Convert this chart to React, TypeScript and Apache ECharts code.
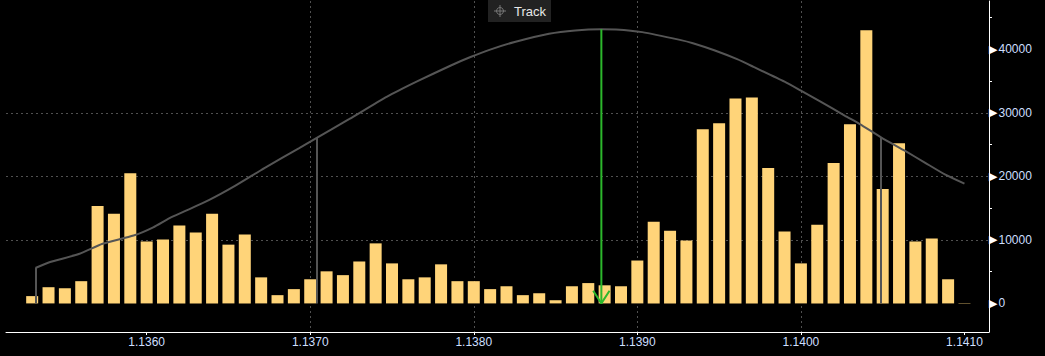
import React, { useEffect, useRef } from 'react';
import * as echarts from 'echarts';

// Price levels (x) and traded volume at each level (bars)
const priceLevels = [
  1.1353, 1.1354, 1.1355, 1.1356, 1.1357, 1.1358, 1.1359, 1.1360, 1.1361, 1.1362,
  1.1363, 1.1364, 1.1365, 1.1366, 1.1367, 1.1368, 1.1369, 1.1370, 1.1371, 1.1372,
  1.1373, 1.1374, 1.1375, 1.1376, 1.1377, 1.1378, 1.1379, 1.1380, 1.1381, 1.1382,
  1.1383, 1.1384, 1.1385, 1.1386, 1.1387, 1.1388, 1.1389, 1.1390, 1.1391, 1.1392,
  1.1393, 1.1394, 1.1395, 1.1396, 1.1397, 1.1398, 1.1399, 1.1400, 1.1401, 1.1402,
  1.1403, 1.1404, 1.1405, 1.1406, 1.1407, 1.1408, 1.1409, 1.1410,
];
const volumes = [
  1150, 2550, 2400, 3500, 15350, 14100, 20500, 9750, 10050, 12250,
  11150, 14100, 9250, 10850, 4100, 1300, 2250, 3800, 5050, 4450,
  6600, 9450, 6300, 3800, 4100, 6150, 3500, 3500, 2250, 2700,
  1300, 1600, 500, 2700, 3200, 2850, 2700, 6750, 12850, 11450,
  9900, 27400, 28350, 32250, 32400, 21300, 11300, 6300, 12400, 22100,
  28200, 43000, 18000, 25200, 9750, 10200, 3800, 60,
];

// Distribution curve ("Track")
const curvePrices = [
  1.13532, 1.13541, 1.13559, 1.13573, 1.13592, 1.13604, 1.13614, 1.13623, 1.13638, 1.13654,
  1.13672, 1.13693, 1.13704, 1.13713, 1.13724, 1.13747, 1.13765, 1.13786, 1.13798, 1.13810,
  1.13825, 1.13846, 1.13862, 1.13878, 1.13887, 1.13903, 1.13926, 1.13934, 1.13947, 1.13961,
  1.13971, 1.13990, 1.14000, 1.14012, 1.14027, 1.14036, 1.14049, 1.14064, 1.14076, 1.14088,
  1.14100,
];
const curveValues = [
  5570, 6510, 7810, 9380, 10680, 11980, 13440, 14480, 16250, 18490,
  21300, 24400, 26040, 27380, 29030, 32550, 34900, 37450, 38780, 39950,
  41150, 42450, 42970, 43150, 43120, 42700, 41480, 40950, 39840, 38440,
  37240, 34900, 33490, 31770, 29530, 28230, 26150, 23960, 22130, 20310,
  18850,
];

// Vertical markers on the curve
const markerPrices = [1.13532, 1.13704, 1.14049];
const markerValues = [5570, 26040, 26150];

// Green arrow (curve peak)
const arrowPrice = 1.13878;
const arrowTop = 43150;

// Axis ticks
const xTicks = [1.136, 1.137, 1.138, 1.139, 1.14, 1.141];
const yTicks = [0, 10000, 20000, 30000, 40000];
const yMinorTicks = [5000, 15000, 25000, 35000, 45000];

const X_MIN = 1.13514;
const X_MAX = 1.14115;
const Y_MIN = -4500;
const Y_MAX = 47600;

const LABEL_COLOR = '#cddfff';
const FONT = 'Liberation Sans';
const GRID_COLOR = '#505050';

export default function App() {
  const ref = useRef<HTMLDivElement>(null);

  useEffect(() => {
    if (!ref.current) return;
    const chart = echarts.init(ref.current, undefined, { renderer: 'svg' });

    const option: any = {
      animation: false,
      backgroundColor: '#000',
      grid: { left: 6, right: 56, top: 1, bottom: 24, containLabel: false },
      graphic: [
        {
          type: 'group',
          left: 488,
          top: 0,
          children: [
            { type: 'rect', shape: { x: 0, y: 0, width: 63, height: 22 }, style: { fill: '#222' } },
            { type: 'circle', shape: { cx: 12, cy: 11, r: 3.5 }, style: { fill: 'none', stroke: '#777', lineWidth: 1 } },
            { type: 'line', shape: { x1: 6, y1: 11, x2: 18, y2: 11 }, style: { stroke: '#777', lineWidth: 1 } },
            { type: 'line', shape: { x1: 12, y1: 5, x2: 12, y2: 17 }, style: { stroke: '#777', lineWidth: 1 } },
            {
              type: 'text',
              x: 26,
              y: 11,
              style: { text: 'Track', fill: '#e8e8e8', font: `13px "${FONT}"`, textVerticalAlign: 'middle' },
            },
          ],
        },
      ],
      xAxis: {
        type: 'value',
        min: X_MIN,
        max: X_MAX,
        axisLine: { show: true, onZero: false, lineStyle: { color: '#fff', width: 1 } },
        axisTick: { show: true, length: 3, customValues: xTicks, lineStyle: { color: '#fff' } },
        axisLabel: {
          customValues: xTicks,
          formatter: (v: number) => v.toFixed(4),
          color: LABEL_COLOR,
          fontSize: 12,
          fontFamily: FONT,
          margin: 4,
        },
        splitLine: {
          show: true,
          showMinLine: false,
          showMaxLine: false,
          lineStyle: { color: GRID_COLOR, type: [2, 3], width: 1 },
        },
      },
      yAxis: [
        {
          type: 'value',
          position: 'right',
          min: Y_MIN,
          max: Y_MAX,
          axisLine: { show: true, onZero: false, lineStyle: { color: '#fff', width: 1 } },
          axisTick: { show: false, customValues: yTicks },
          axisLabel: {
            customValues: yTicks,
            margin: 0,
            formatter: (v: number) => `{t|▶}{v|${v}}`,
            rich: {
              t: { color: '#fff', fontSize: 11, fontFamily: 'DejaVu Sans', padding: [0, 1, 0, 0] },
              v: { color: LABEL_COLOR, fontSize: 12, fontFamily: FONT },
            },
          },
          splitLine: {
            show: true,
            showMinLine: false,
            showMaxLine: false,
            lineStyle: { color: GRID_COLOR, type: [2, 3], width: 1 },
          },
        },
        {
          type: 'value',
          position: 'right',
          min: Y_MIN,
          max: Y_MAX,
          axisLine: { show: false },
          axisTick: { show: true, length: 3, customValues: yMinorTicks, lineStyle: { color: '#fff' } },
          axisLabel: { show: false },
          splitLine: { show: false },
        },
      ],
      series: [
        {
          type: 'bar',
          name: 'Volume',
          data: priceLevels.map((p, i) => [p, volumes[i]]),
          barWidth: 12,
          itemStyle: { color: '#ffd479' },
          z: 2,
        },
        {
          type: 'line',
          name: 'Track',
          data: curvePrices.map((p, i) => [p, curveValues[i]]),
          symbol: 'none',
          smooth: 0.2,
          lineStyle: { color: '#555', width: 2 },
          z: 3,
          markLine: {
            silent: true,
            symbol: ['none', 'none'],
            label: { show: false },
            lineStyle: { color: '#555', width: 2, type: 'solid' },
            data: markerPrices.map((p, i) => [{ coord: [p, 0] }, { coord: [p, markerValues[i]] }]),
          },
        },
        {
          type: 'line',
          name: 'Peak',
          data: [[arrowPrice, arrowTop], [arrowPrice, 0]],
          symbol: 'none',
          lineStyle: { color: '#2cb82c', width: 2 },
          z: 4,
        },
        {
          type: 'line',
          name: 'PeakHead',
          data: [[arrowPrice - 0.00005, 2000], [arrowPrice, 0], [arrowPrice + 0.00005, 2000]],
          symbol: 'none',
          lineStyle: { color: '#2cb82c', width: 2 },
          z: 4,
        },
      ],
    };

    chart.setOption(option);
    return () => chart.dispose();
  }, []);

  return (
    <div
      ref={ref}
      style={{ position: 'fixed', left: 0, top: 0, width: 1045, height: 356, background: '#000' }}
    />
  );
}
